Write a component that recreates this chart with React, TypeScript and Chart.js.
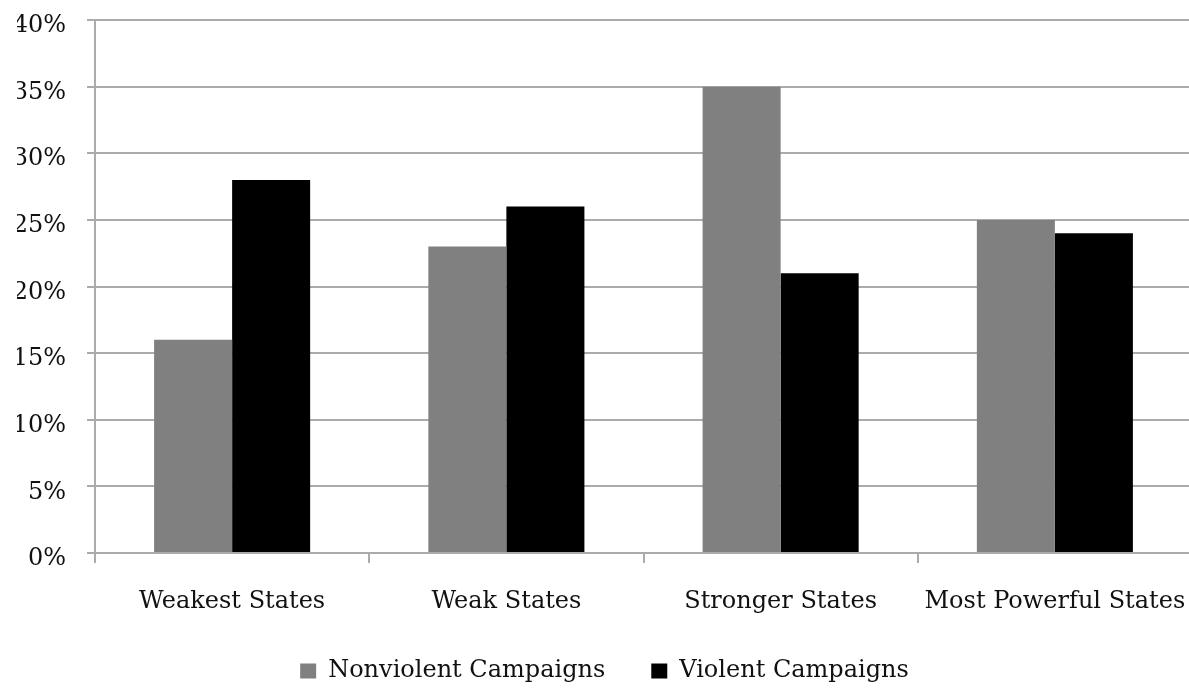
import { useEffect, useRef } from "react";
import { Chart, registerables } from "chart.js";

Chart.register(...registerables);

const categories = ["Weakest States", "Weak States", "Stronger States", "Most Powerful States"];
const seriesNames = ["Nonviolent Campaigns", "Violent Campaigns"];
const nonviolentValues = [16, 23, 35, 25];
const violentValues = [28, 26, 21, 24];
const yMin = 0;
const yMax = 40;
const yStep = 5;

const FONT = '"DejaVu Serif", serif';
const GRID = "#ababab";
const TEXT = "#111111";

export default function App() {
  const ref = useRef<HTMLCanvasElement | null>(null);

  useEffect(() => {
    document.body.style.margin = "0";
    const canvas = ref.current;
    if (!canvas) return;
    const chart = new Chart(canvas, {
      type: "bar",
      data: {
        labels: categories,
        datasets: [
          {
            label: seriesNames[0],
            data: nonviolentValues,
            backgroundColor: "#808080",
            borderWidth: 0,
          },
          {
            label: seriesNames[1],
            data: violentValues,
            backgroundColor: "#000000",
            borderWidth: 0,
          },
        ],
      },
      options: {
        responsive: false,
        animation: false,
        devicePixelRatio: 1,
        layout: { padding: { top: 20, left: 17, right: 0, bottom: 0 } },
        datasets: {
          bar: { categoryPercentage: 0.569, barPercentage: 1 },
        },
        plugins: {
          tooltip: { enabled: false },
          legend: {
            position: "bottom",
            labels: {
              font: { family: FONT, size: 24 },
              color: TEXT,
              boxWidth: 16,
              boxHeight: 15,
              padding: 46,
            },
          },
        },
        scales: {
          x: {
            afterFit: (s: any) => {
              s.height = 60;
              s.paddingLeft = 0;
              s.paddingRight = 0;
            },
            grid: {
              display: true,
              drawOnChartArea: false,
              drawTicks: true,
              tickLength: 10,
              color: GRID,
              lineWidth: 2,
              offset: true,
            },
            border: { display: true, color: GRID, width: 2 },
            ticks: {
              font: { family: FONT, size: 24 },
              color: TEXT,
              padding: 24,
              maxRotation: 0,
              autoSkip: false,
            },
          },
          y: {
            min: yMin,
            max: yMax,
            afterFit: (s: any) => {
              s.width = 78;
              s.paddingTop = 0;
              s.paddingBottom = 0;
            },
            grid: {
              color: GRID,
              lineWidth: 2,
              drawTicks: true,
              tickLength: 8,
            },
            border: { display: true, color: GRID, width: 2 },
            ticks: {
              stepSize: yStep,
              font: { family: FONT, size: 24 },
              color: TEXT,
              padding: 21,
              labelOffset: 6,
              callback: (v: any) => `${v}%`,
            },
          },
        },
      },
    });
    return () => chart.destroy();
  }, []);

  return (
    <div style={{ position: "fixed", left: 0, top: 0, width: 1189, height: 693, overflow: "hidden", background: "#fff" }}>
      <canvas ref={ref} width={1192} height={693} style={{ width: 1192, height: 693, display: "block" }} />
    </div>
  );
}
